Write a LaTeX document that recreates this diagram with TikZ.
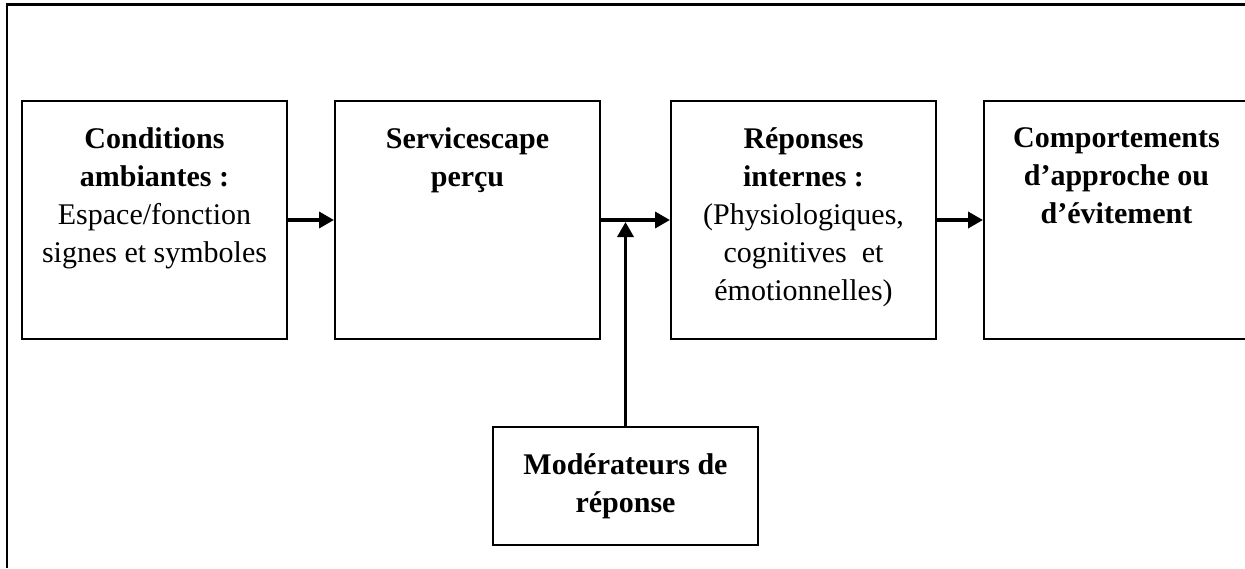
\documentclass[tikz,border=0pt]{standalone}
\usepackage{fontspec}
\setmainfont{Liberation Serif}
\usetikzlibrary{arrows.meta,positioning}

\tikzset{
  bloc/.style={draw, line width=2pt, minimum width=265pt, minimum height=238pt, inner sep=0pt},
  texte/.style={anchor=north, align=center, inner sep=0pt, font=\fontsize{30}{38}\selectfont},
  fleche/.style={line width=3.5pt, -{Triangle[length=15pt,width=16pt]}}
}

\begin{document}
\begin{tikzpicture}[x=1pt,y=-1pt]
        \useasboundingbox (0,0) rectangle (1245,568);
        \clip (0,0) rectangle (1245,568);

        % Frame
        \draw[line width=3pt] (6,4.5) -- (1245,4.5);
        \draw[line width=2.5pt] (7,3) -- (7,568);

        % Blocks
        \node[bloc] (cond) at (154.5,220) {};
        \node[bloc] (scape) at (467.5,220) {};
        \node[bloc] (rep) at (803.5,220) {};
        \node[bloc] (comp) at (1116.5,220) {};
        \node[bloc, minimum height=118pt, align=center, font=\fontsize{30}{38}\selectfont] (mod) at (625.5,486)
            {\textbf{Modérateurs de}\\\textbf{réponse}};

        % Block texts
        \node[texte] (cond-t) at ([yshift=-27pt]cond.north)
            {\textbf{Conditions}\\\textbf{ambiantes :}\\Espace/fonction\\signes et symboles};
        \node[texte] (scape-t) at ([yshift=-27pt]scape.north)
            {\textbf{Servicescape}\\\textbf{perçu}};
        \node[texte] (rep-t) at ([yshift=-27pt]rep.north)
            {\textbf{Réponses}\\\textbf{internes :}\\(Physiologiques,\\cognitives\ \ et\\émotionnelles)};
        \node[texte] (comp-t) at ([yshift=-27pt]comp.north)
            {\textbf{Comportements}\\\textbf{d’approche ou}\\\textbf{d’évitement}};

        % Arrows
        \coordinate (jonction) at (mod.north |- scape.east);
        \draw[fleche] (cond) -- (scape);
        \draw[fleche] (scape) -- (rep);
        \draw[fleche] (rep) -- (comp);
        \draw[fleche, shorten >=2pt] (mod.north) -- (jonction);
    \end{tikzpicture}
\end{document}
